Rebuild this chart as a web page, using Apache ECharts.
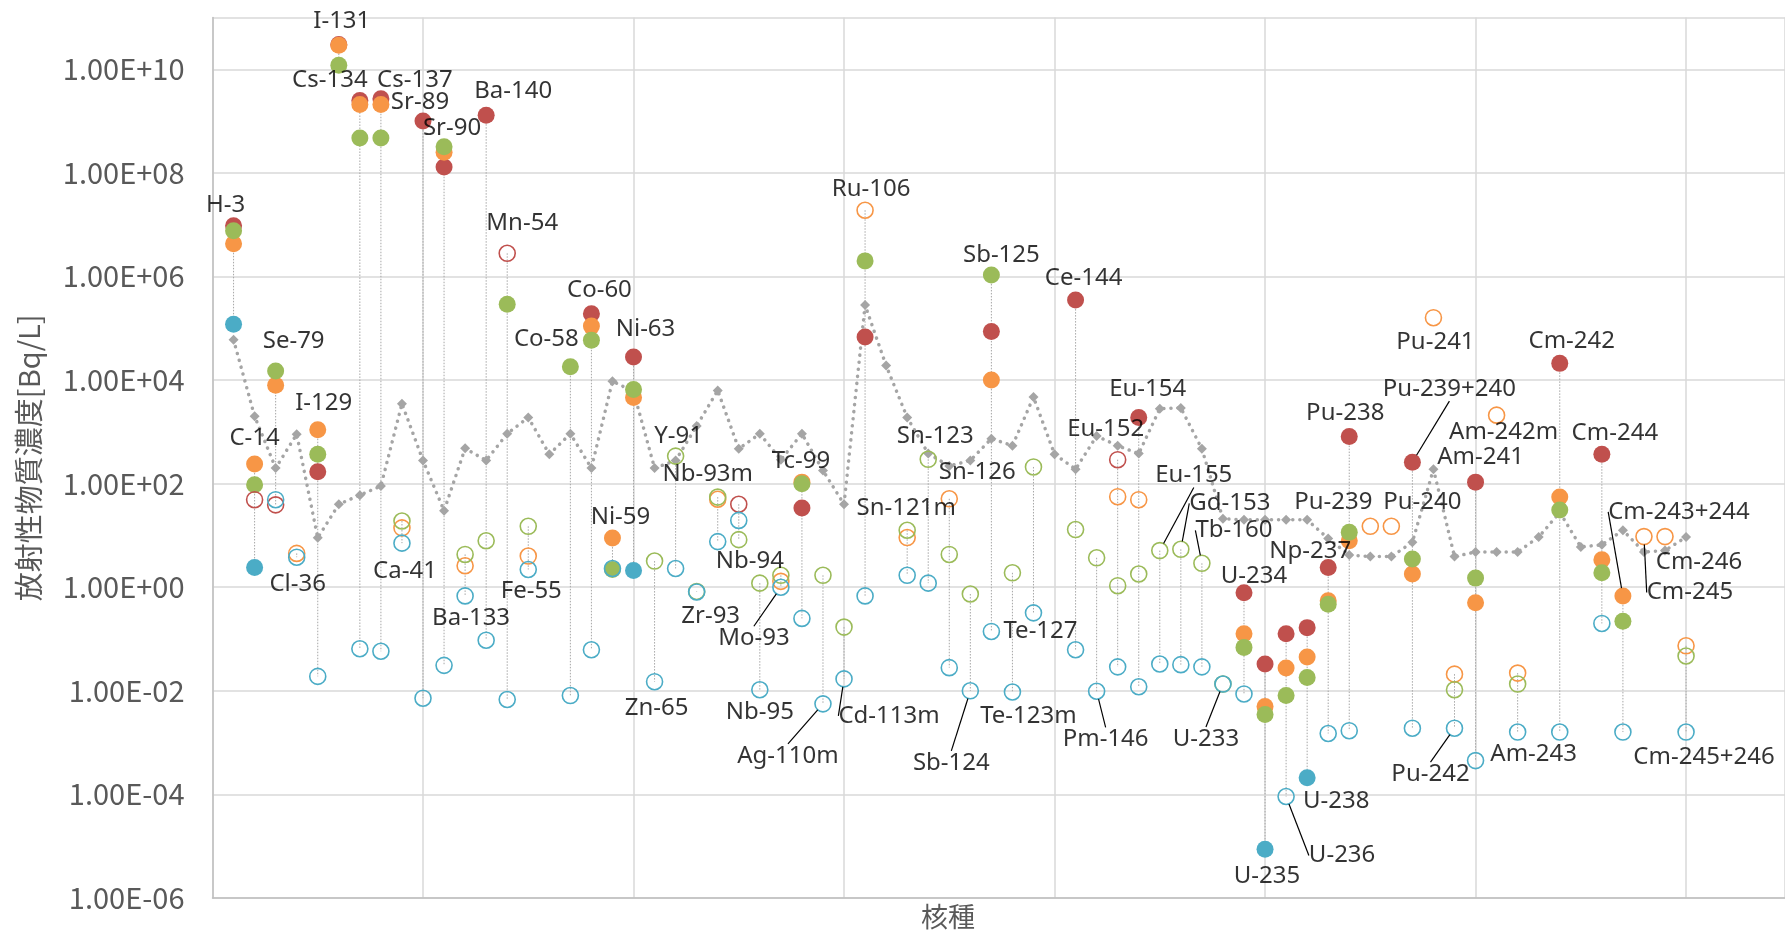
<!DOCTYPE html>
<html><head><meta charset="utf-8">
<script src="https://cdn.jsdelivr.net/npm/echarts@6/dist/echarts.min.js"></script>
<style>html,body{margin:0;padding:0;background:#fff}#c{width:1785px;height:935px}</style>
</head><body><div id="c"></div>
<script>
// ---- categories (x positions 1..70; '' = position with no measured data) ----
const nuclides = ['H-3','C-14','Se-79','Cl-36','I-129','I-131','Cs-134','Cs-137','Ca-41','Sr-89',
 'Sr-90','Ba-133','Ba-140','Mn-54','Fe-55','','Co-58','Co-60','Ni-59','Ni-63',
 'Zn-65','Y-91','Zr-93','Nb-93m','Nb-94','Nb-95','Mo-93','Tc-99','Ag-110m','Cd-113m',
 'Ru-106','','Sn-121m','Sn-123','Sn-126','Sb-124','Sb-125','Te-123m','Te-127','',
 'Ce-144','Pm-146','Eu-152','Eu-154','Eu-155','Gd-153','Tb-160','U-233','U-234','U-235',
 'U-236','U-238','Np-237','Pu-238','Pu-239','Pu-240','Pu-239+240','Pu-241','Pu-242','Am-241',
 'Am-242m','Am-243','','Cm-242','','Cm-244','Cm-243+244','Cm-245','Cm-246','Cm-245+246'];

// ---- tick labels of the y axis (exponents shown) ----
const yTickExponents = [-6,-4,-2,0,2,4,6,8,10];

// ---- series values [nuclide, Bq/L] ----
const redFilled = [['H-3',9.5e6],['I-129',170],['I-131',3.0e10],['Cs-134',2.5e9],['Cs-137',2.7e9],
 ['Sr-89',1.0e9],['Sr-90',1.3e8],['Ba-140',1.3e9],['Co-60',1.9e5],['Ni-63',2.8e4],['Tc-99',34],
 ['Ru-106',6.8e4],['Sb-125',8.7e4],['Ce-144',3.5e5],['Eu-154',1900],['U-234',0.78],['U-235',0.033],
 ['U-236',0.126],['U-238',0.166],['Np-237',2.4],['Pu-238',810],['Pu-239+240',260],['Am-241',107],
 ['Cm-242',2.1e4],['Cm-244',370]];
const orangeFilled = [['H-3',4.3e6],['C-14',240],['Se-79',7.9e3],['I-129',1100],['I-131',2.9e10],
 ['Cs-134',2.1e9],['Cs-137',2.1e9],['Sr-90',2.5e8],['Co-60',1.1e5],['Ni-59',8.9],['Ni-63',4.6e3],
 ['Tc-99',107],['Sb-125',1.0e4],['U-234',0.126],['U-235',0.005],['U-236',0.0275],['U-238',0.045],
 ['Np-237',0.55],['Pu-238',7.9],['Pu-239+240',1.8],['Am-241',0.5],['Cm-242',55],['Cm-244',3.4],
 ['Cm-243+244',0.68]];
const greenFilled = [['H-3',7.6e6],['C-14',95],['Se-79',1.5e4],['I-129',370],['I-131',1.2e10],
 ['Cs-134',4.7e8],['Cs-137',4.7e8],['Sr-90',3.2e8],['Mn-54',2.9e5],['Co-58',1.8e4],['Co-60',5.9e4],
 ['Ni-59',2.2],['Ni-63',6.6e3],['Tc-99',100],['Ru-106',2.0e6],['Sb-125',1.07e6],['U-234',0.069],
 ['U-235',0.0035],['U-236',0.0081],['U-238',0.018],['Np-237',0.47],['Pu-238',11.5],['Pu-239+240',3.5],
 ['Am-241',1.5],['Cm-242',31],['Cm-244',1.9],['Cm-243+244',0.22]];
const blueFilled = [['H-3',1.2e5],['C-14',2.4],['Ni-63',2.1],['U-235',8.7e-6],['U-238',2.1e-4]];
const redHollow = [['C-14',49],['Se-79',39],['Mn-54',2.8e6],['Nb-94',40],['Eu-152',290]];
const orangeHollow = [['Cl-36',4.5],['Ca-41',14],['Ba-133',2.6],['Fe-55',4.0],['Nb-93m',50],['Mo-93',1.3],
 ['Ru-106',1.9e7],['Sn-121m',9.1],['Sn-126',51],['Eu-152',56],['Eu-154',49],['Pu-239',15],['Pu-240',15],
 ['Pu-241',1.6e5],['Pu-242',0.021],['Am-242m',2100],['Am-243',0.022],['Cm-245',9.5],['Cm-246',9.5],
 ['Cm-245+246',0.074]];
const greenHollow = [['Ca-41',19],['Ba-133',4.3],['Ba-140',7.9],['Fe-55',15],['Zn-65',3.2],['Y-91',340],
 ['Zr-93',0.83],['Nb-93m',55],['Nb-94',8.3],['Nb-95',1.2],['Mo-93',1.7],['Ag-110m',1.7],['Cd-113m',0.17],
 ['Sn-121m',12.6],['Sn-123',295],['Sn-126',4.3],['Sb-124',0.74],['Te-123m',1.9],['Te-127',210],
 ['Ce-144',13],['Pm-146',3.7],['Eu-152',1.07],['Eu-154',1.8],['Eu-155',5.1],['Gd-153',5.4],['Tb-160',2.9],
 ['U-233',0.0135],['Pu-242',0.0105],['Am-243',0.0135],['Cm-245+246',0.047]];
const blueHollow = [['Se-79',49],['Cl-36',3.8],['I-129',0.019],['Cs-134',0.065],['Cs-137',0.058],['Ca-41',7.1],
 ['Sr-89',0.0072],['Sr-90',0.031],['Ba-133',0.68],['Ba-140',0.095],['Mn-54',0.0068],['Fe-55',2.2],
 ['Co-58',0.0081],['Co-60',0.062],['Ni-59',2.3],['Zn-65',0.015],['Y-91',2.3],['Zr-93',0.81],['Nb-93m',7.6],
 ['Nb-94',19.5],['Nb-95',0.0105],['Mo-93',1.0],['Tc-99',0.25],['Ag-110m',0.0056],['Cd-113m',0.017],
 ['Ru-106',0.68],['Sn-121m',1.7],['Sn-123',1.2],['Sn-126',0.028],['Sb-124',0.010],['Sb-125',0.14],
 ['Te-123m',0.0095],['Te-127',0.32],['Ce-144',0.062],['Pm-146',0.0098],['Eu-152',0.029],['Eu-154',0.012],
 ['Eu-155',0.033],['Gd-153',0.032],['Tb-160',0.029],['U-233',0.0135],['U-234',0.0087],['U-236',9.1e-5],
 ['Np-237',0.0015],['Pu-238',0.0017],['Pu-239+240',0.0019],['Pu-242',0.0019],['Am-241',4.5e-4],
 ['Am-243',0.0016],['Cm-242',0.0016],['Cm-244',0.20],['Cm-243+244',0.0016],['Cm-245+246',0.0016]];
// gray dotted reference line, one value per x position 1..70
const limitValues = [6.0e4,2.0e3,200,900,9,40,60,90,3.5e3,280,
 30,480,280,920,1.9e3,370,920,200,9.5e3,6.0e3,
 200,280,1.3e3,6.3e3,470,920,290,920,180,40,
 2.8e5,1.9e4,1.9e3,380,220,280,740,540,4.7e3,370,
 190,830,540,380,2.8e3,2.9e3,470,21,20,20,
 20,20,8.7,4.2,3.9,3.9,7.4,190,3.9,4.8,
 4.8,4.8,9.3,28,6.0,6.6,12.6,4.8,5.1,9.3];

// ---- label placement (layout only): [nuclide, anchor series, dx, dy, leader] ----
const labelPlacement = [
 ['H-3','red',-8,-21,0],['C-14','orange',0,-26,0],['Se-79','green',18,-30,0],['Cl-36','blueH',1,27,0],
 ['I-129','orange',6,-27,0],['I-131','orange',3,-24,0],['Cs-134','red',-30,-20,0],['Cs-137','red',34,-19,0],
 ['Ca-41','blueH',3,28,0],['Sr-89','red',-3,-19,0],['Sr-90','green',8,-19,0],['Ba-133','blueH',6,22,0],
 ['Ba-140','red',27,-24,0],['Mn-54','redH',15,-30,0],['Fe-55','blueH',3,22,0],['Co-58','green',-24,-28,0],
 ['Co-60','red',8,-24,0],['Ni-59','orange',8,-21,0],['Ni-63','red',12,-28,0],['Zn-65','blueH',2,26,0],
 ['Y-91','greenH',3,-20,0],['Zr-93','blueH',14,24,0],['Nb-93m','greenH',-10,-23,0],['Nb-94','greenH',11,22,0],
 ['Nb-95','blueH',0,22,0],['Mo-93','blueH',-27,51,1],['Tc-99','green',-1,-22,0],['Ag-110m','blueH',-35,52,1],
 ['Cd-113m','blueH',45,37,1],['Ru-106','orangeH',6,-21,0],['Sn-121m','greenH',-1,-22,0],['Sn-123','greenH',7,-23,0],
 ['Sn-126','orangeH',28,-27,0],['Sb-124','blueH',-19,72,1],['Sb-125','green',10,-20,0],['Te-123m','blueH',16,24,0],
 ['Te-127','blueH',7,18,0],['Ce-144','red',8,-22,0],['Pm-146','blueH',9,48,1],['Eu-152','redH',-12,-31,0],
 ['Eu-154','red',9,-28,0],['Eu-155','greenH',34,-75,1],['Gd-153','greenH',49,-46,1],['Tb-160','greenH',32,-33,1],
 ['U-233','blueH',-17,55,1],['U-234','red',10,-17,0],['U-235','blue',2,27,0],['U-236','blueH',56,59,1],
 ['U-238','blue',29,23,0],['Np-237','red',-18,-16,0],['Pu-238','red',-4,-23,0],['Pu-239','orangeH',-37,-24,0],
 ['Pu-240','orangeH',31,-24,0],['Pu-239+240','red',37,-73,1],['Pu-241','orangeH',2,24,0],['Pu-242','blueH',-24,46,1],
 ['Am-241','red',5,-25,0],['Am-242m','orangeH',7,17,0],['Am-243','blueH',16,22,0],['Cm-242','red',12,-22,0],
 ['Cm-244','red',13,-21,0],['Cm-243+244','orange',56,-84,1],['Cm-245','orangeH',46,56,1],['Cm-246','orangeH',34,26,0],
 ['Cm-245+246','blueH',18,25,0]];

// ---------------------------------------------------------------------------
const RED='#C0504D', ORANGE='#F79646', GREEN='#9BBB59', BLUE='#4BACC6';
const pos = {}; nuclides.forEach((n,i)=>{ if(n) pos[n]=i+1; });
const seriesDefs = [
 {key:'red', data:redFilled, color:RED, filled:true},
 {key:'orange', data:orangeFilled, color:ORANGE, filled:true},
 {key:'green', data:greenFilled, color:GREEN, filled:true},
 {key:'blue', data:blueFilled, color:BLUE, filled:true},
 {key:'redH', data:redHollow, color:RED, filled:false},
 {key:'orangeH', data:orangeHollow, color:ORANGE, filled:false},
 {key:'greenH', data:greenHollow, color:GREEN, filled:false},
 {key:'blueH', data:blueHollow, color:BLUE, filled:false}
];
const byKey = {}; seriesDefs.forEach(s=>{ byKey[s.key]={}; s.data.forEach(d=>byKey[s.key][d[0]]=d[1]); });

// high-low drop lines from each nuclide's max to min
const range = {};
seriesDefs.forEach(s=>s.data.forEach(([n,v])=>{
  const r = range[n] || (range[n]={min:v,max:v});
  r.min=Math.min(r.min,v); r.max=Math.max(r.max,v);
}));
const dropData = Object.keys(range).filter(n=>range[n].max>range[n].min).map(n=>[pos[n],range[n].max,range[n].min]);

const LABEL_FONT = '"Noto Sans", "DejaVu Sans", sans-serif';
const AXIS_FONT = '"Noto Sans CJK JP", "Noto Sans", sans-serif';

function fmtExp(v){
  const e = Math.round(Math.log10(v));
  if (yTickExponents.indexOf(e) < 0) return '';
  const a = Math.abs(e);
  return '1.00E' + (e<0?'-':'+') + (a<10?'0':'') + a;
}

const series = [];
series.push({
  type:'custom', name:'range', silent:true, z:1,
  renderItem:(params, api)=>{
    const p1 = api.coord([api.value(0), api.value(1)]);
    const p2 = api.coord([api.value(0), api.value(2)]);
    return {type:'line', shape:{x1:p1[0],y1:p1[1],x2:p2[0],y2:p2[1]},
      style:{stroke:'#A6A6A6', lineWidth:1, lineDash:[1.5,1.5]}};
  },
  encode:{x:0, y:[1,2]},
  data: dropData
});
series.push({
  type:'line', name:'limit', silent:true, z:2,
  data: limitValues.map((v,i)=>[i+1,v]),
  symbol:'diamond', symbolSize:10, showSymbol:true,
  itemStyle:{color:'#A5A5A5'},
  lineStyle:{color:'#A5A5A5', width:3.5, type:[0.1,7], cap:'round'}
});
seriesDefs.forEach((s,k)=>{
  series.push({
    type:'scatter', name:s.key, silent:true, z:3+k,
    symbol:'circle', symbolSize: s.filled?17:16,
    itemStyle: s.filled ? {color:s.color, opacity:1} : {color:'rgba(255,255,255,0)', borderColor:s.color, borderWidth:1.6, opacity:1},
    data: s.data.map(([n,v])=>[pos[n], v])
  });
});
function labelSeries(withLeader){
  const items = labelPlacement.filter(l=>!!l[4]===withLeader);
  return {
    type:'scatter', name: withLeader?'labelsLeader':'labels', silent:true, z:20,
    symbol:'circle', symbolSize:16, itemStyle:{color:'rgba(0,0,0,0)'},
    data: items.map(l=>({name:l[0], value:[pos[l[0]], byKey[l[1]][l[0]]]})),
    label:{show:true, position:'inside', formatter:'{b}', color:'#000', fontSize:24, fontFamily:LABEL_FONT},
    labelLayout:(p)=>({dx:items[p.dataIndex][2], dy:items[p.dataIndex][3], hideOverlap:false}),
    labelLine: withLeader ? {show:true, lineStyle:{color:'#000', width:1.2}} : {show:false}
  };
}
series.push(labelSeries(false));
series.push(labelSeries(true));

const chart = echarts.init(document.getElementById('c'), null, {renderer:'canvas'});
chart.setOption({
  animation:false,
  backgroundColor:'#fff',
  grid:{left:212.5, top:17.5, width:1572.5, height:880.5, containLabel:false},
  xAxis:{type:'value', min:0, max:74.7, interval:10,
    axisLine:{show:true, onZero:false, lineStyle:{color:'#BFBFBF', width:1.5}},
    axisTick:{show:false}, axisLabel:{show:false},
    splitLine:{show:true, lineStyle:{color:'#D9D9D9', width:1.5}}},
  yAxis:{type:'log', logBase:100, min:1e-6, max:1e11, splitNumber:9,
    axisLine:{show:true, lineStyle:{color:'#BFBFBF', width:1.5}},
    axisTick:{show:false},
    axisLabel:{formatter:fmtExp, color:'#595959', fontSize:29, fontFamily:AXIS_FONT, margin:28, showMaxLabel:false},
    splitLine:{show:true, lineStyle:{color:'#D9D9D9', width:1.5}},
    name:'放射性物質濃度[Bq/L]', nameLocation:'middle', nameRotate:90, nameGap:169,
    nameTextStyle:{color:'#595959', fontSize:29, fontFamily:AXIS_FONT}},
  graphic:[{type:'text', left:921, top:903, silent:true,
    style:{text:'核種', fill:'#595959', font:'27px "Noto Sans CJK JP"'}}],
  series: series
});
</script></body></html>
